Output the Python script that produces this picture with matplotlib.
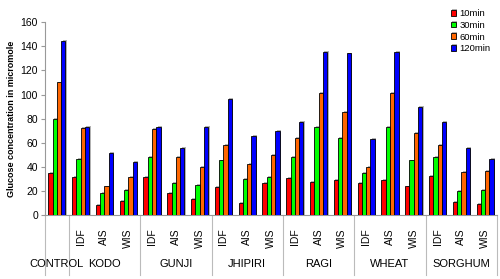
import numpy as np
import matplotlib
matplotlib.use('Agg')
from matplotlib import pyplot as plt
import matplotlib.patheffects as pe

plt.rcParams['font.family'] = ['Liberation Sans', 'DejaVu Sans']

# groups and sub categories
groups = ['CONTROL', 'KODO', 'GUNJI', 'JHIPIRI', 'RAGI', 'WHEAT', 'SORGHUM']
subs = ['IDF', 'AIS', 'WIS']
series = ['10min', '30min', '60min', '120min']
colors = ['#FF0000', '#00FF00', '#FF6600', '#0000FF']

# values per category (control first, then 3 per group)
v10 = [35, 32, 9, 12, 32, 19, 14, 23.5, 10, 27, 31, 28, 29.5, 27, 29.5, 24, 32.5, 11.5, 9.5]
v30 = [80, 46.5, 19, 21.5, 48, 26.5, 25.5, 45.5, 30.5, 32, 48, 73, 64.5, 35.5, 73, 45.5, 48.5, 20.5, 21]
v60 = [110, 72, 24, 31.5, 71.5, 48.5, 40.5, 58, 42.5, 50, 64.5, 101, 86, 40.5, 101.5, 68.5, 58.5, 36, 37]
v120 = [144, 73.5, 51.5, 44.5, 73.5, 56, 73, 96, 66, 69.5, 77.5, 135, 134, 63, 135, 90, 77, 56, 47]
vals = [v10, v30, v60, v120]

fig = plt.figure(figsize=(5, 2.79), dpi=100)
ax = fig.add_axes([0.09, 0.2276, 0.904, 0.6934])

x = np.arange(len(v10))
w = 0.18
for k in range(4):
    bars = ax.bar(x + (k - 1.5) * w, vals[k], w, color=colors[k], edgecolor='black',
                  linewidth=0.6, label=series[k], zorder=3)
    for b in bars:
        b.set_path_effects([pe.SimplePatchShadow(offset=(1.0, 0.7), shadow_rgbFace='gray', alpha=0.6),
                            pe.Normal()])

ax.set_xlim(-0.5, len(v10) - 0.5)
ax.set_ylim(0, 160)
ax.set_yticks(range(0, 161, 20))
ax.tick_params(axis='y', labelsize=7.5, length=3, color='#999999', pad=2)
ax.set_xticks([])
for s in ['top', 'right']:
    ax.spines[s].set_visible(False)
ax.spines['left'].set_color('#999999')
ax.spines['bottom'].set_color('#999999')
ax.set_ylabel('Glucose concentration in micromole', fontsize=6.5, fontweight='bold', labelpad=3)

tr = ax.get_xaxis_transform()
# sub labels
for i in range(1, len(v10)):
    ax.text(i, -0.065, subs[(i - 1) % 3], transform=tr, rotation=90, ha='center', va='top',
            fontsize=7.5, clip_on=False)
# group labels
ax.text(0, -0.25, groups[0], transform=tr, ha='center', va='center', fontsize=8)
for g in range(1, len(groups)):
    ax.text(3 * g - 1, -0.25, groups[g], transform=tr, ha='center', va='center', fontsize=8)
# separators
for xs in [-0.5, 0.5, 3.5, 6.5, 9.5, 12.5, 15.5, 18.5]:
    ax.plot([xs, xs], [0, -0.31], transform=tr, color='#BBBBBB', linewidth=0.8, clip_on=False)

leg = ax.legend(loc='upper right', bbox_to_anchor=(1.0, 1.1), fontsize=6.8, frameon=False,
                handlelength=0.55, handleheight=0.55, handletextpad=0.35, labelspacing=0.28,
                borderpad=0.2)

fig.savefig('out.png', dpi=100)
